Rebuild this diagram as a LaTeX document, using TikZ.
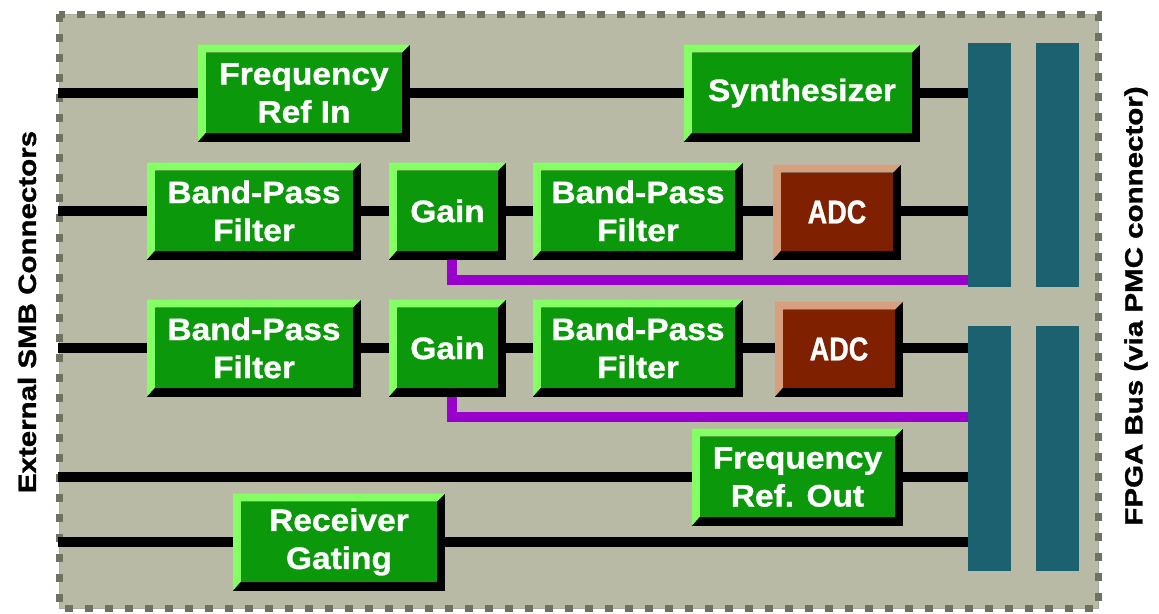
\documentclass[tikz,border=0pt]{standalone}
\usepackage{fontspec}
\setsansfont{Liberation Sans}[FakeStretch=1.18, FakeBold=1.2]
\newfontfamily\boxfont{Liberation Sans}[FakeStretch=1.08, FakeBold=1]
\newfontfamily\adcfont{Liberation Sans}[FakeStretch=0.82, FakeBold=0.8]
\usetikzlibrary{calc}
\definecolor{bgc}{HTML}{B8BAA6}
\definecolor{dashc}{HTML}{6E735F}
\definecolor{faceg}{HTML}{0B990B}
\definecolor{lightg}{HTML}{84FF64}
\definecolor{facer}{HTML}{7F2000}
\definecolor{lightr}{HTML}{D6A07E}
\definecolor{busc}{HTML}{1C6170}
\definecolor{purp}{HTML}{9A00CC}
\tikzset{
  bevelbox/.style 2 args={rectangle, inner sep=0pt, fill=black, text=white, align=center,
    path picture={
      \fill[#2] (path picture bounding box.north west) -- (path picture bounding box.north east)
        -- ++(-8,8) -- ($(path picture bounding box.north west)+(8,8)$)
        -- ($(path picture bounding box.south west)+(8,-9)$) -- (path picture bounding box.south west) -- cycle;
      \fill[#1] ($(path picture bounding box.north west)+(8,8)$) rectangle ($(path picture bounding box.south east)+(-8,-9)$);
    }},
  gbox/.style={bevelbox={faceg}{lightg}, minimum height=97pt, font=\boxfont\bfseries\fontsize{31}{38}\selectfont},
  rbox/.style={bevelbox={facer}{lightr}, minimum height=95pt, font=\adcfont\bfseries\fontsize{33}{38}\selectfont},
  bus/.style={fill=busc, inner sep=0pt, minimum width=43pt},
  wire/.style={line width=10pt, black},
  pwire/.style={line width=10pt, purp},
  side/.style={rotate=90, font=\sffamily\bfseries\fontsize{25}{30}\selectfont, text=black}
}
\begin{document}
\begin{tikzpicture}[x=1pt, y=-1pt]
\useasboundingbox (0,0) rectangle (1159,613);
% board
\fill[bgc] (59,14) rectangle (1098,608);
\draw[dashc!60, line width=1pt] (59,14) rectangle (1098,608);
\draw[dashc, line width=7pt, dash pattern=on 8pt off 12pt] (59,14) rectangle (1098,608);

% bus bars
\node[bus, minimum height=244pt] (ub1) at (989.5,165) {};
\node[bus, minimum height=244pt] (ub2) at (1057,165) {};
\node[bus, minimum height=245pt] (lb1) at (989.5,448.5) {};
\node[bus, minimum height=245pt] (lb2) at (1057,448.5) {};

% row 1
\node[gbox, minimum width=212pt] (fin) at (304,93) {Frequency\\Ref In};
\node[gbox, minimum width=236pt] (syn) at (802,93) {Synthesizer};
% row 2
\node[gbox, minimum width=214pt] (bpa1) at (254,211) {Band-Pass\\Filter};
\node[gbox, minimum width=117pt] (gain1) at (447.5,211) {Gain};
\node[gbox, minimum width=210pt] (bpb1) at (638,211) {Band-Pass\\Filter};
\node[rbox, minimum width=128pt] (adc1) at (837,212) {ADC};
% row 3
\node[gbox, minimum width=214pt] (bpa2) at (254,348) {Band-Pass\\Filter};
\node[gbox, minimum width=117pt] (gain2) at (447.5,348) {Gain};
\node[gbox, minimum width=210pt] (bpb2) at (638,348) {Band-Pass\\Filter};
\node[rbox, minimum width=128pt] (adc2) at (839,349) {ADC};
% row 4, 5
\node[gbox, minimum width=211pt] (fro) at (797.5,477) {Frequency\\Ref. Out};
\node[gbox, minimum width=212pt] (rg) at (339,542) {Receiver\\Gating};

% left connector ends
\coordinate (l1) at (58,93);
\coordinate (l2) at (58,211);
\coordinate (l3) at (58,348);
\coordinate (l4) at (58,477);
\coordinate (l5) at (58,542);
\coordinate (p1) at (968,280);
\coordinate (p2) at (968,417);

% wires
\draw[wire] (l1) -- (fin);
\draw[wire] (fin) -- (syn);
\draw[wire] (syn) -- (syn -| ub1.west);
\draw[wire] (l2) -- (bpa1);
\draw[wire] (bpa1) -- (gain1);
\draw[wire] (gain1) -- (bpb1);
\draw[wire] (bpb1.east) -- (bpb1.east -| adc1.west);
\draw[wire] (adc1.east |- bpb1.east) -- (bpb1.east -| ub1.west);
\draw[wire] (l3) -- (bpa2);
\draw[wire] (bpa2) -- (gain2);
\draw[wire] (gain2) -- (bpb2);
\draw[wire] (bpb2.east) -- (bpb2.east -| adc2.west);
\draw[wire] (adc2.east |- bpb2.east) -- (bpb2.east -| lb1.west);
\draw[wire] (l4) -- (fro);
\draw[wire] (fro) -- (fro -| lb1.west);
\draw[wire] (l5) -- (rg);
\draw[wire] (rg) -- (rg -| lb1.west);
\draw[pwire] ([xshift=4pt]gain1.south) |- (p1);
\draw[pwire] ([xshift=4pt]gain2.south) |- (p2);

% side labels
\node[side] (ext) at (27,312) {External SMB Connectors};
\node[side] (fpga) at (1136,306) {FPGA Bus (via PMC connector)};
\end{tikzpicture}
\end{document}
